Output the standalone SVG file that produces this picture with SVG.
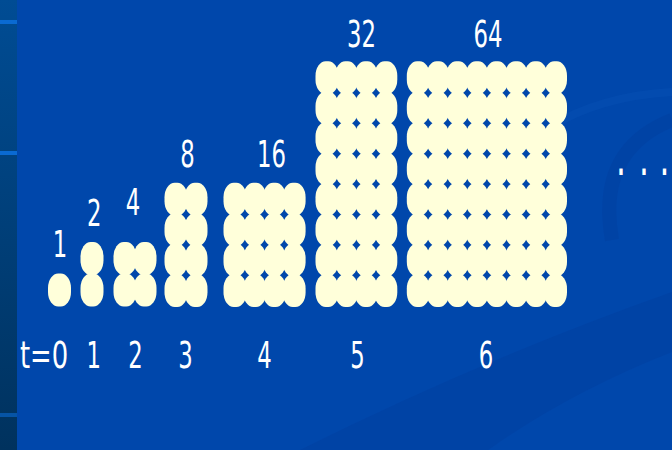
<svg xmlns="http://www.w3.org/2000/svg" xmlns:xlink="http://www.w3.org/1999/xlink" width="672" height="450" viewBox="0 0 672 450">
<style>
.n{font-family:"DejaVu Sans","Liberation Sans",sans-serif;font-size:38px;fill:#FFFFFF;text-anchor:middle}
.ell{font-family:"DejaVu Sans","Liberation Sans",sans-serif;font-size:52px;fill:#FFFFFF;text-anchor:middle}
.dot{fill:#FFFFDA}
.stripline{fill:#0A6AD2}
</style>
<defs>
<linearGradient id="strip" x1="0" y1="0" x2="0" y2="1">
<stop offset="0" stop-color="#004C94"/>
<stop offset="1" stop-color="#00325E"/>
</linearGradient>
<rect id="d" class="dot" x="-11.5" y="-16.5" width="23" height="33" rx="10.2" ry="14.5"/>
<g id="c2"><use xlink:href="#d"/><use xlink:href="#d" y="-31.5"/></g>
<g id="c4"><use xlink:href="#d"/><use xlink:href="#d" y="-30.4"/><use xlink:href="#d" y="-60.8"/><use xlink:href="#d" y="-91.2"/></g>
<g id="c8"><use xlink:href="#c4"/><use xlink:href="#c4" y="-121.6"/></g>
</defs>

<g id="background">
<rect x="0" y="0" width="672" height="450" fill="#0047AB"/>
<path d="M 300 450 Q 480 360 672 292 L 672 352 Q 570 392 488 450 Z" fill="#003C9A" opacity="0.35"/>
<path d="M 612 240 Q 596 150 672 120" fill="none" stroke="#003C9A" stroke-width="14" opacity="0.35"/>
<path d="M 548 128 Q 600 96 672 92" fill="none" stroke="#0A55B8" stroke-width="8" opacity="0.3"/>
<rect x="0" y="0" width="17" height="450" fill="url(#strip)"/>
<rect class="stripline" x="0" y="20" width="17" height="4"/>
<rect class="stripline" x="0" y="151" width="17" height="4"/>
<rect class="stripline" x="0" y="413" width="17" height="4" opacity="0.6"/>
</g>

<g id="connectors"></g>

<g id="gen0">
<use xlink:href="#d" x="59.5" y="290"/>
<text class="n" transform="translate(60 257) scale(0.6 1)">1</text>
</g>
<g id="gen1">
<use xlink:href="#c2" x="92" y="290"/>
<text class="n" transform="translate(94.3 225.5) scale(0.6 1)">2</text>
</g>
<g id="gen2">
<use xlink:href="#c2" x="125" y="290"/>
<use xlink:href="#c2" x="145" y="290"/>
<text class="n" transform="translate(133 215) scale(0.6 1)">4</text>
</g>
<g id="gen3">
<use xlink:href="#c4" x="176" y="290.5"/>
<use xlink:href="#c4" x="196" y="290.5"/>
<text class="n" transform="translate(187.5 167) scale(0.6 1)">8</text>
</g>
<g id="gen4">
<use xlink:href="#c4" x="235" y="290.5"/>
<use xlink:href="#c4" x="254.7" y="290.5"/>
<use xlink:href="#c4" x="274.4" y="290.5"/>
<use xlink:href="#c4" x="294.1" y="290.5"/>
<text class="n" transform="translate(271.5 167) scale(0.6 1)">16</text>
</g>
<g id="gen5">
<use xlink:href="#c8" x="327" y="290.5"/>
<use xlink:href="#c8" x="346.6" y="290.5"/>
<use xlink:href="#c8" x="366.2" y="290.5"/>
<use xlink:href="#c8" x="385.8" y="290.5"/>
<text class="n" transform="translate(361.5 46.7) scale(0.6 1)">32</text>
</g>
<g id="gen6">
<use xlink:href="#c8" x="418.3" y="290.5"/>
<use xlink:href="#c8" x="437.9" y="290.5"/>
<use xlink:href="#c8" x="457.5" y="290.5"/>
<use xlink:href="#c8" x="477.1" y="290.5"/>
<use xlink:href="#c8" x="496.7" y="290.5"/>
<use xlink:href="#c8" x="516.3" y="290.5"/>
<use xlink:href="#c8" x="535.9" y="290.5"/>
<use xlink:href="#c8" x="555.5" y="290.5"/>
<text class="n" transform="translate(488 46.7) scale(0.6 1)">64</text>
</g>

<g id="more">
<text class="ell" transform="scale(0.6 1)" x="1035 1073.3 1107.5" y="175">...</text>
</g>

<g id="time-axis">
<text class="n" transform="translate(44 367.7) scale(0.68 1)">t=0</text>
<text class="n" transform="translate(93.7 367.7) scale(0.6 1)">1</text>
<text class="n" transform="translate(135.5 367.7) scale(0.6 1)">2</text>
<text class="n" transform="translate(185.5 367.7) scale(0.6 1)">3</text>
<text class="n" transform="translate(264.5 367.7) scale(0.6 1)">4</text>
<text class="n" transform="translate(357.5 367.7) scale(0.6 1)">5</text>
<text class="n" transform="translate(486 367.7) scale(0.6 1)">6</text>
</g>
</svg>
